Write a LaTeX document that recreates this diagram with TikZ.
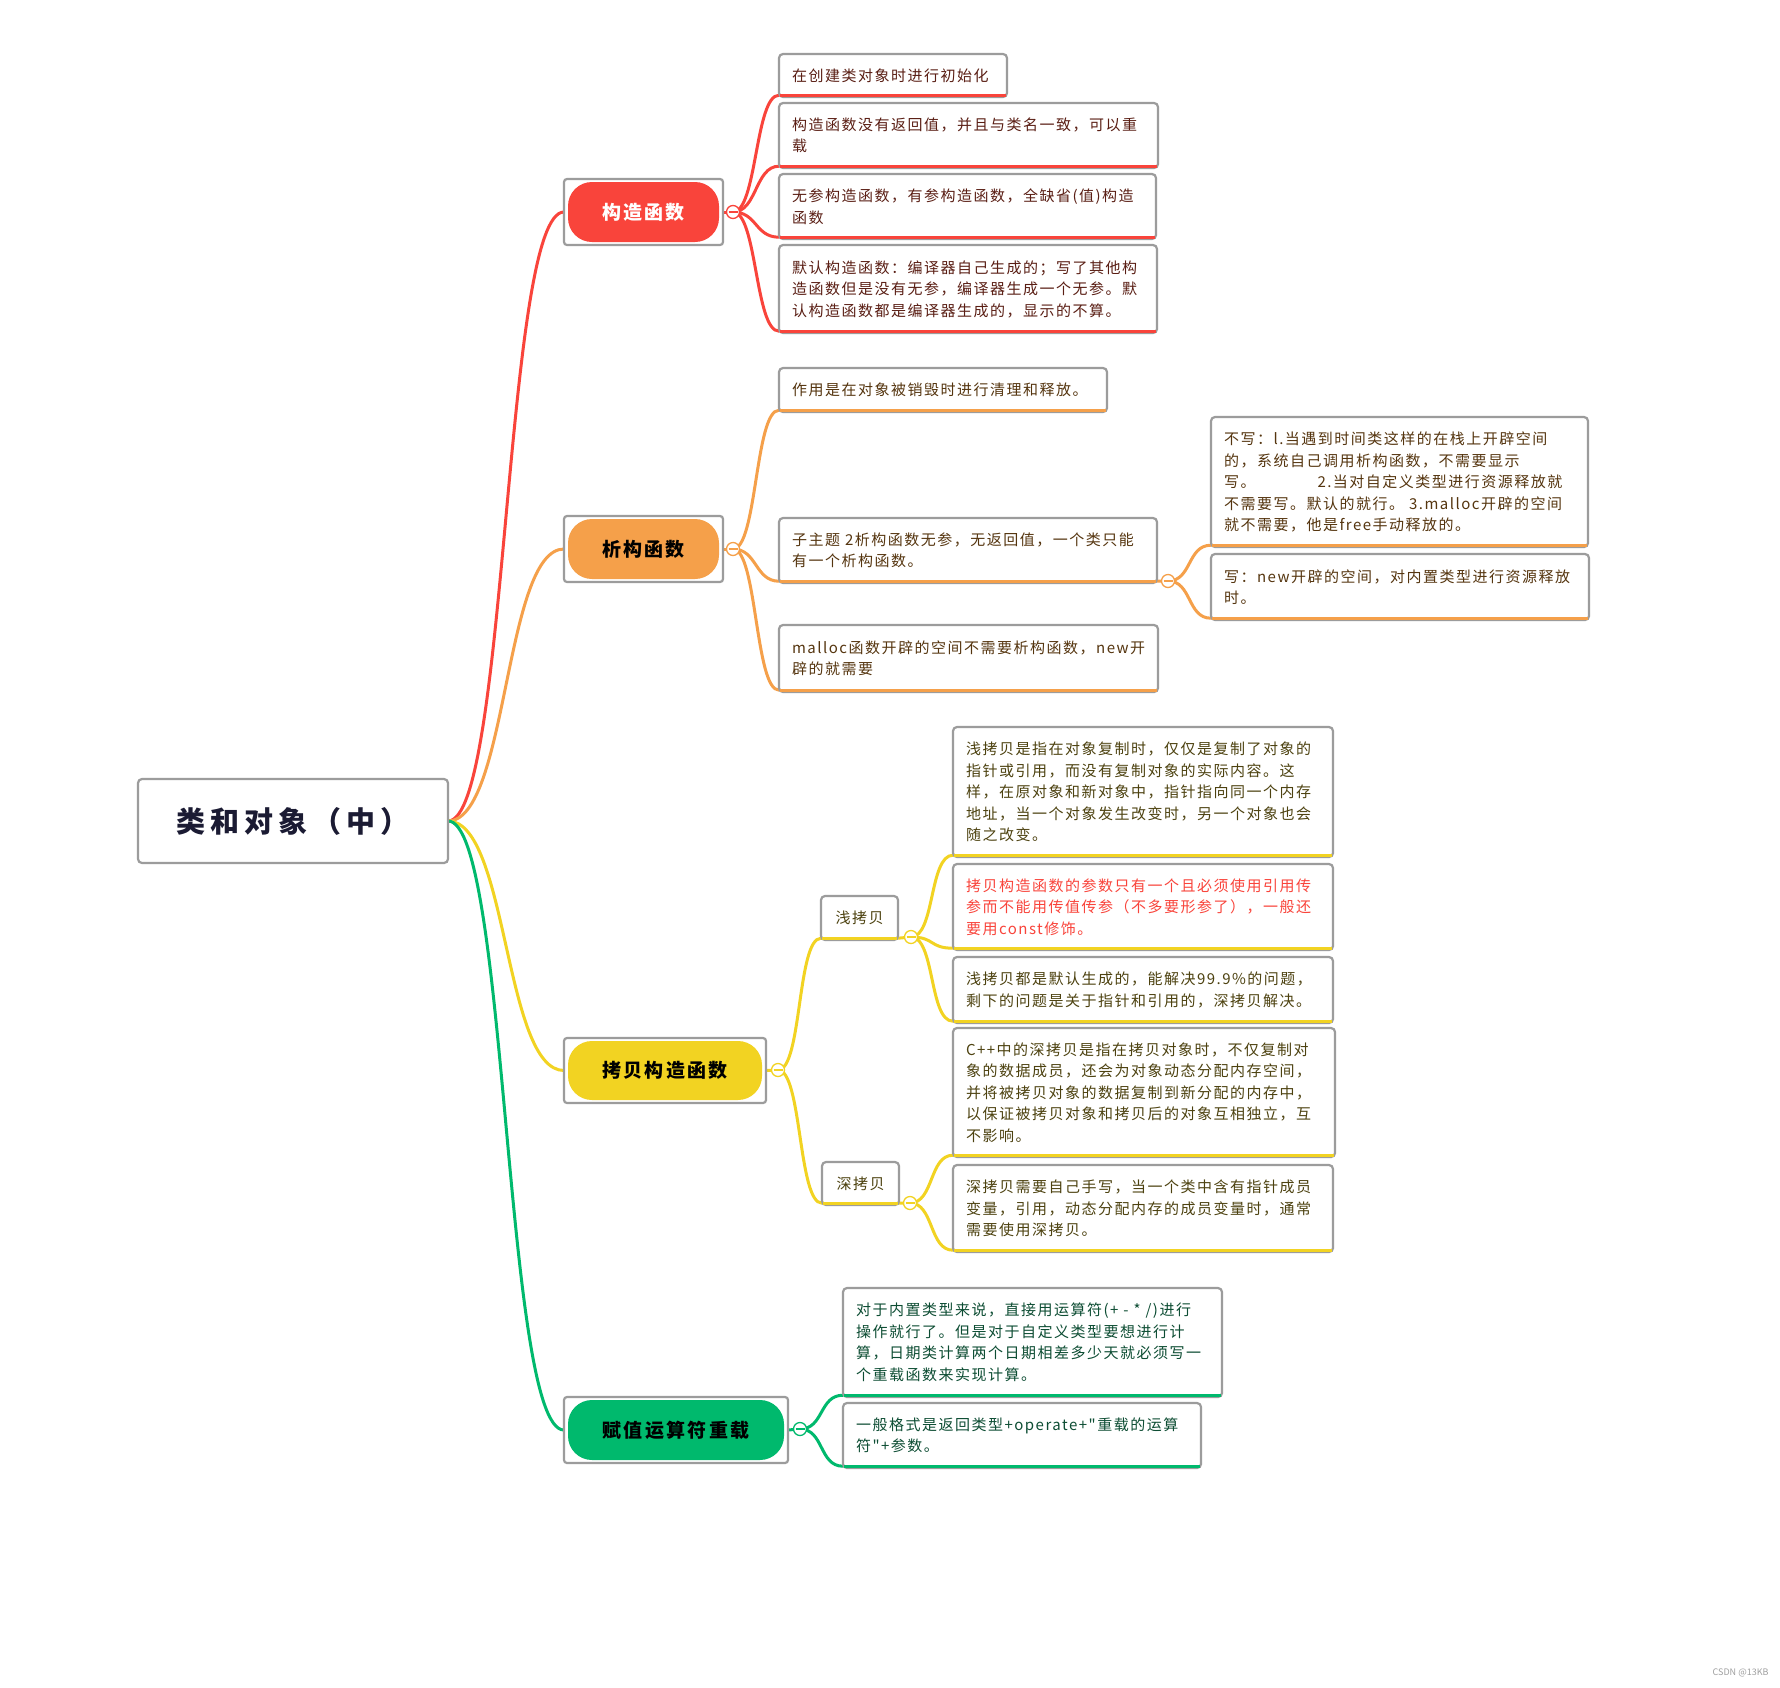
\documentclass[tikz,border=0pt]{standalone}
\usepackage{fontspec}
\setmainfont{Noto Sans CJK SC}
\newfontfamily\leaffont{Noto Sans CJK SC}[LetterSpace=10]
\newfontfamily\branchfont{Noto Sans CJK SC}[LetterSpace=12]
\newfontfamily\rootfont{Noto Sans CJK SC}[LetterSpace=17]
\usetikzlibrary{backgrounds}
\definecolor{cred}{HTML}{F9443B}
\definecolor{corange}{HTML}{F5A04A}
\definecolor{cyellow}{HTML}{F2D322}
\definecolor{cgreen}{HTML}{00B96D}
\definecolor{gbord}{HTML}{9C9C9C}
\definecolor{tred}{HTML}{5A1E14}
\definecolor{torange}{HTML}{55350F}
\definecolor{tyellow}{HTML}{4D4210}
\definecolor{tgreen}{HTML}{0D4D33}
\definecolor{rootc}{HTML}{1B1B33}
\begin{document}
\begin{tikzpicture}[x=1pt,y=-1pt,
  mmroot/.style={draw=gbord, line width=2.2pt, rounded corners=4pt, fill=white, anchor=north west,
    minimum width=310pt, minimum height=84pt, inner sep=0pt, outer sep=0pt, text=rootc,
    font=\rootfont\bfseries\fontsize{29}{32}\selectfont},
  mmbranch/.style={draw=gbord, line width=2.2pt, rounded corners=3pt, fill=white, anchor=north west,
    inner sep=0pt, outer sep=0pt, minimum height=66pt,
    font=\branchfont\bfseries\fontsize{19}{22}\selectfont,
    path picture={\fill[#1, rounded corners=24pt]
      ([xshift=4pt,yshift=-3pt]path picture bounding box.north west) rectangle
      ([xshift=-4pt,yshift=3pt]path picture bounding box.south east);}},
  mmleaf/.style={draw=gbord, line width=2.2pt, rounded corners=4pt, fill=white, anchor=north west,
    inner xsep=13pt, inner ysep=0pt, outer sep=0pt, align=left,
    font=\leaffont\fontsize{15}{21.5}\selectfont},
  mmsub/.style={draw=gbord, line width=2.2pt, rounded corners=4pt, fill=white, anchor=north west,
    inner sep=0pt, outer sep=0pt, text=tyellow, minimum width=77pt, minimum height=44pt,
    font=\leaffont\fontsize{15}{18}\selectfont},
  mmknob/.style={circle, draw=#1, fill=white, line width=1.3pt, minimum size=13pt, inner sep=0pt,
    path picture={\draw[#1, line width=1.3pt]
      ([xshift=-4.5pt]path picture bounding box.center) -- ([xshift=4.5pt]path picture bounding box.center);}},
  mmconn/.style={draw=#1, line width=3pt, line cap=round},
  mmul/.style={draw=#1, line width=3pt}
]
\useasboundingbox (0,0) rectangle (1780,1687);

% root
\node[mmroot] (root) at (138,779) {类和对象（中）};

% branches
\node[mmbranch=cred, minimum width=159pt, text=white] (b1) at (564,179) {构造函数};
\node[mmbranch=corange, minimum width=159pt, text=black] (b2) at (564,516) {析构函数};
\node[mmbranch=cyellow, minimum width=202pt, minimum height=65pt, text=black] (b3) at (564,1038) {拷贝构造函数};
\node[mmbranch=cgreen, minimum width=224pt, text=black] (b4) at (564,1397) {赋值运算符重载};

% leaves of 构造函数
\node[mmleaf, text=tred, text width=202pt, minimum height=43pt] (c1) at (779,54) {在创建类对象时进行初始化};
\node[mmleaf, text=tred, text width=353pt, minimum height=65pt] (c2) at (779,103) {构造函数没有返回值，并且与类名一致，可以重\\载};
\node[mmleaf, text=tred, text width=351pt, minimum height=65pt] (c3) at (779,174) {无参构造函数，有参构造函数，全缺省(值)构造\\函数};
\node[mmleaf, text=tred, text width=352pt, minimum height=88pt] (c4) at (779,245) {默认构造函数：编译器自己生成的；写了其他构\\造函数但是没有无参，编译器生成一个无参。默\\认构造函数都是编译器生成的，显示的不算。};

% leaves of 析构函数
\node[mmleaf, text=torange, text width=302pt, minimum height=44pt] (d1) at (779,368) {作用是在对象被销毁时进行清理和释放。};
\node[mmleaf, text=torange, text width=352pt, minimum height=65pt] (d2) at (779,518) {子主题~2析构函数无参，无返回值，一个类只能\\有一个析构函数。};
\node[mmleaf, text=torange, text width=353pt, minimum height=67pt] (d3) at (779,625) {malloc函数开辟的空间不需要析构函数，new开\\辟的就需要};
\node[mmleaf, text=torange, text width=351pt, minimum height=130pt] (e1) at (1211,417) {不写：l.当遇到时间类这样的在栈上开辟空间\\的，系统自己调用析构函数，不需要显示\\写。\hspace{62pt}2.当对自定义类型进行资源释放就\\不需要写。默认的就行。~3.malloc开辟的空间\\就不需要，他是free手动释放的。};
\node[mmleaf, text=torange, text width=352pt, minimum height=66pt] (e2) at (1211,554) {写：new开辟的空间，对内置类型进行资源释放\\时。};

% 拷贝构造函数
\node[mmsub] (qian) at (821,896) {浅拷贝};
\node[mmsub, minimum height=43pt] (shen) at (822,1162) {深拷贝};
\node[mmleaf, text=tyellow, text width=354pt, minimum height=130pt] (f1) at (953,727) {浅拷贝是指在对象复制时，仅仅是复制了对象的\\指针或引用，而没有复制对象的实际内容。这\\样，在原对象和新对象中，指针指向同一个内存\\地址，当一个对象发生改变时，另一个对象也会\\随之改变。};
\node[mmleaf, text=cred, text width=354pt, minimum height=86pt] (f2) at (953,864) {拷贝构造函数的参数只有一个且必须使用引用传\\参而不能用传值传参（不多要形参了），一般还\\要用const修饰。};
\node[mmleaf, text=tyellow, text width=354pt, minimum height=66pt] (f3) at (953,957) {浅拷贝都是默认生成的，能解决99.9\%的问题，\\剩下的问题是关于指针和引用的，深拷贝解决。};
\node[mmleaf, text=tyellow, text width=356pt, minimum height=129pt] (g1) at (953,1028) {C++中的深拷贝是指在拷贝对象时，不仅复制对\\象的数据成员，还会为对象动态分配内存空间，\\并将被拷贝对象的数据复制到新分配的内存中，\\以保证被拷贝对象和拷贝后的对象互相独立，互\\不影响。};
\node[mmleaf, text=tyellow, text width=354pt, minimum height=87pt] (g2) at (953,1165) {深拷贝需要自己手写，当一个类中含有指针成员\\变量，引用，动态分配内存的成员变量时，通常\\需要使用深拷贝。};

% 赋值运算符重载
\node[mmleaf, text=tgreen, text width=353pt, minimum height=109pt] (h1) at (843,1288) {对于内置类型来说，直接用运算符(+ - * /)进行\\操作就行了。但是对于自定义类型要想进行计\\算，日期类计算两个日期相差多少天就必须写一\\个重载函数来实现计算。};
\node[mmleaf, text=tgreen, text width=332pt, minimum height=65pt] (h2) at (843,1403) {一般格式是返回类型+operate+"重载的运算\\符"+参数。};

% knobs
\node[mmknob=cred] (k1) at (733,212) {};
\node[mmknob=corange] (k2) at (733,549) {};
\node[mmknob=cyellow] (k3) at (778,1070) {};
\node[mmknob=cgreen] (k4) at (800,1429) {};
\node[mmknob=corange] (kd2) at (1168,581) {};
\node[mmknob=cyellow] (kq) at (911,937) {};
\node[mmknob=cyellow] (ks) at (910,1203) {};

% underlines
\foreach \n/\c in {c1/cred,c2/cred,c3/cred,c4/cred,d1/corange,d2/corange,d3/corange,e1/corange,e2/corange,
  qian/cyellow,shen/cyellow,f1/cyellow,f2/cyellow,f3/cyellow,g1/cyellow,g2/cyellow,h1/cgreen,h2/cgreen}
  \draw[mmul=\c] ([xshift=1pt,yshift=1.8pt]\n.south west) -- ([xshift=-1pt,yshift=1.8pt]\n.south east);

% watermark
\node[font=\fontsize{9}{10}\selectfont, text=gray!75, anchor=east] (wm) at (1772,1673) {CSDN @13KB};

\begin{scope}[on background layer]
  \fill[white] (0,0) rectangle (1780,1687);
  % root to branches
  \draw[mmconn=cred] (root.east) to[out=0,in=180,distance=60pt] (b1.west);
  \draw[mmconn=corange] (root.east) to[out=0,in=180,distance=60pt] (b2.west);
  \draw[mmconn=cyellow] (root.east) to[out=0,in=180,distance=60pt] (b3.west);
  \draw[mmconn=cgreen] (root.east) to[out=0,in=180,distance=60pt] (b4.west);
  % branch to knob
  \draw[mmconn=cred] (b1.east) -- (k1);
  \draw[mmconn=corange] (b2.east) -- (k2);
  \draw[mmconn=cyellow] (b3.east) -- (k3);
  \draw[mmconn=cgreen] (b4.east) -- (k4);
  \draw[mmconn=corange] ([yshift=1.8pt]d2.south east) -- (kd2);
  \draw[mmconn=cyellow] ([yshift=1.8pt]qian.south east) -- (kq);
  \draw[mmconn=cyellow] ([yshift=1.8pt]shen.south east) -- (ks);
  % knob to leaves
  \foreach \k/\n/\c in {k1/c1/cred,k1/c2/cred,k1/c3/cred,k1/c4/cred,
    k2/d1/corange,k2/d2/corange,k2/d3/corange,kd2/e1/corange,kd2/e2/corange,
    k3/qian/cyellow,k3/shen/cyellow,kq/f1/cyellow,kq/f2/cyellow,kq/f3/cyellow,
    ks/g1/cyellow,ks/g2/cyellow,k4/h1/cgreen,k4/h2/cgreen}
    \draw[mmconn=\c] (\k.center) to[out=0,in=180,distance=24pt] ([yshift=1.8pt]\n.south west);
\end{scope}
\end{tikzpicture}
\end{document}
